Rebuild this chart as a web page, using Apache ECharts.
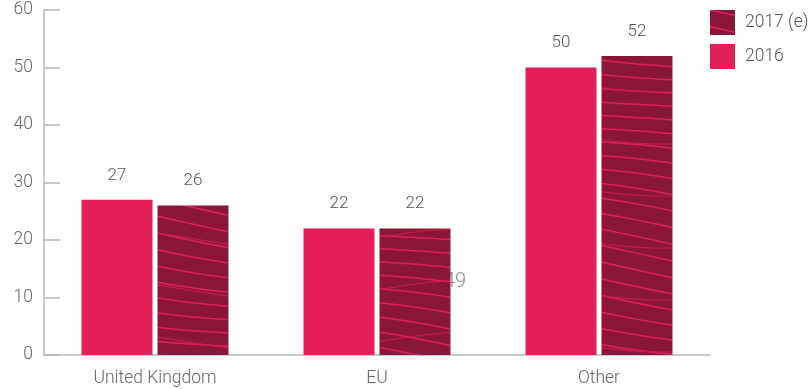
<!DOCTYPE html>
<html><head><meta charset="utf-8">
<script src="https://cdn.jsdelivr.net/npm/echarts@6/dist/echarts.min.js"></script>
<style>html,body{margin:0;padding:0;background:#fff}#c{width:812px;height:389px}</style>
</head><body><div id="c"></div>
<script>
const categories = ['United Kingdom', 'EU', 'Other'];
const values2016 = [27, 22, 50];
const values2017 = [26, 22, 52];
const yTicks = [0, 10, 20, 30, 40, 50, 60];
const strayText = '49';

const PINK = '#E41F58';
const DARK = '#8A1738';

function makePattern() {
  const W = 820, H = 400;
  const c = document.createElement('canvas');
  c.width = W; c.height = H;
  const g = c.getContext('2d');
  g.fillStyle = DARK; g.fillRect(0, 0, W, H);
  g.strokeStyle = '#DE2059'; g.lineWidth = 1.5;
  for (let i = -20; i < 30; i++) {
    const y0 = i * 15;
    g.beginPath();
    g.moveTo(0, y0);
    for (let x = 0; x <= W; x += 10) {
      const y = y0 + x * 0.14 + 6 * Math.sin(x / 70 + i * 0.3);
      g.lineTo(x, y);
    }
    g.stroke();
  }
  g.lineWidth = 1.2; g.strokeStyle = '#C81B4E';
  for (let i = 0; i < 8; i++) {
    const y0 = 30 + i * 52;
    g.beginPath();
    g.moveTo(0, y0);
    for (let x = 0; x <= W; x += 10) {
      g.lineTo(x, y0 - 10 * Math.sin(x / 60));
    }
    g.stroke();
  }
  return c;
}
const pat = makePattern();

const chart = echarts.init(document.getElementById('c'));
const axisColor = '#B4B8BF';
const FONT = 'Roboto, sans-serif';
const textStyle = { color: '#666', fontSize: 17.5, fontFamily: FONT, fontWeight: 300 };
chart.setOption({
  animation: false,
  grid: { left: 44, right: 102, top: 10, bottom: 34 },
  legend: {
    data: ['2017 (e)', '2016'],
    orient: 'vertical', top: 10, left: 710, padding: 0,
    icon: 'rect',
    itemWidth: 25, itemHeight: 25, itemGap: 9,
    textStyle: { color: '#555', fontSize: 17.5, fontFamily: FONT, fontWeight: 300, padding: [0, 0, 0, 5] }
  },
  xAxis: {
    type: 'category', data: categories,
    axisLine: { lineStyle: { color: axisColor, width: 1.5 } },
    axisTick: { inside: true, length: 9, lineStyle: { color: axisColor, width: 1.5 } },
    axisLabel: Object.assign({ margin: 15 }, textStyle)
  },
  yAxis: {
    type: 'value', min: yTicks[0], max: yTicks[yTicks.length - 1], interval: 10,
    axisLine: { show: true, lineStyle: { color: axisColor, width: 1.5 } },
    axisTick: { show: true, inside: true, length: 16, lineStyle: { color: axisColor, width: 1.5 } },
    splitLine: { show: false },
    axisLabel: Object.assign({ margin: 11 }, textStyle)
  },
  graphic: [{
    type: 'text', z: 0, zlevel: 0, left: 444, top: 272,
    style: { text: strayText, fill: '#888', font: '300 20px Roboto, sans-serif' }
  }],
  series: [
    {
      name: '2016', type: 'bar', data: values2016, barWidth: 71, barGap: '7%', z: 5,
      itemStyle: { color: PINK },
      label: { show: true, position: 'top', distance: 16, color: '#555', fontSize: 17, fontFamily: FONT, fontWeight: 300 }
    },
    {
      name: '2017 (e)', type: 'bar', data: values2017, barWidth: 71, z: 5,
      itemStyle: { color: { image: pat, repeat: 'repeat' } },
      label: { show: true, position: 'top', distance: 16, color: '#555', fontSize: 17, fontFamily: FONT, fontWeight: 300 }
    }
  ]
});
</script></body></html>
